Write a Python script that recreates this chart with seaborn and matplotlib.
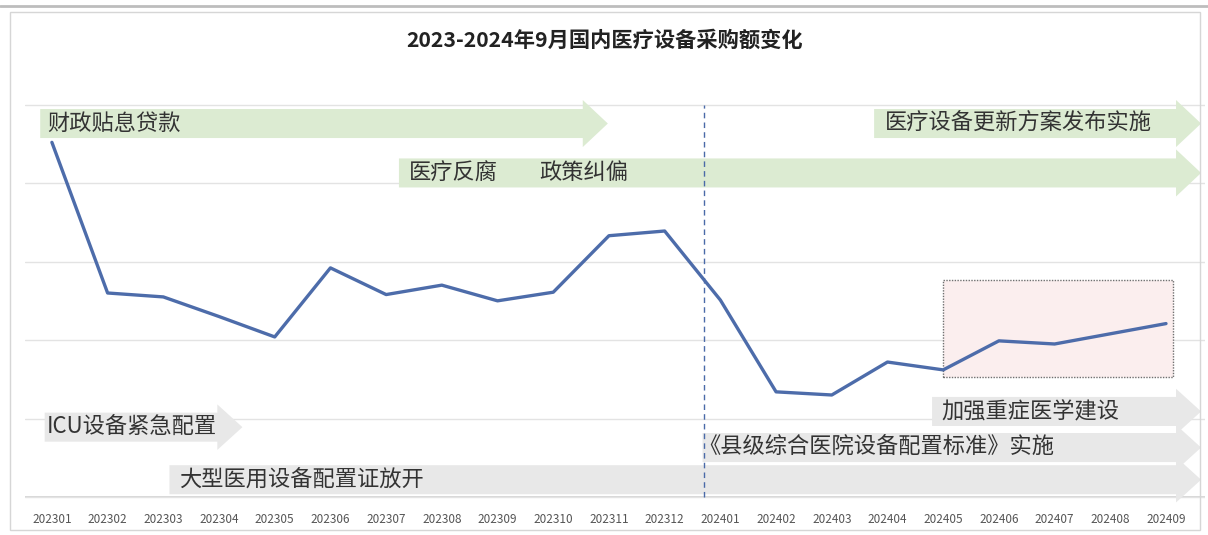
import numpy as np
import pandas as pd
import matplotlib
matplotlib.use("Agg")
import matplotlib.pyplot as plt
from matplotlib.patches import Polygon, Rectangle
import seaborn as sns

# ---------------- data ----------------
months = ["202301", "202302", "202303", "202304", "202305", "202306", "202307",
          "202308", "202309", "202310", "202311", "202312", "202401", "202402",
          "202403", "202404", "202405", "202406", "202407", "202408", "202409"]
amount = [452, 260, 255, 230, 204, 292, 258, 270, 250, 261, 333, 339,
          251, 134, 130, 172, 162, 199, 195, 208, 221]
title = "2023-2024年9月国内医疗设备采购额变化"

# policy arrows: (label(s), start, end, centre)
green_arrows = [
    (["财政贴息贷款"], -0.21, 9.98, 476),
    (["医疗反腐", "政策纠偏"], 6.23, 20.63, 413),
    (["医疗设备更新方案发布实施"], 14.76, 20.63, 476),
]
gray_arrows = [
    (["ICU设备紧急配置"], -0.13, 3.42, 89),
    (["大型医用设备配置证放开"], 2.11, 20.63, 22),
    (["加强重症医学建设"], 15.8, 20.63, 109),
    (["《县级综合医院设备配置标准》实施"], 11.68, 20.63, 63),
]

# ---------------- style ----------------
sns.set_theme(style="whitegrid")
plt.rcParams['font.family'] = ['Noto Sans CJK SC', 'DejaVu Sans']

W, H = 1208, 535
fig = plt.figure(figsize=(W / 100, H / 100), dpi=100)
ax = fig.add_axes([25 / W, 1 - 506.4 / H, 1180 / W, (506.4 - 89) / H])

df = pd.DataFrame({"idx": np.arange(len(months)), "amount": amount})

ax.set_xlim(-0.483, 20.7)
ax.set_ylim(-12, 520)
ax.set_yticks([0, 100, 200, 300, 400, 500])
ax.set_yticklabels([])
ax.grid(axis="x", visible=False)
ax.grid(axis="y", color="#e3e3e3", lw=1)
for s in ax.spines.values():
    s.set_visible(False)
ax.set_facecolor("white")
ax.tick_params(axis="y", length=0)
ax.tick_params(axis="x", length=0, pad=5, labelsize=8.5, labelcolor="#555555")
ax.set_xticks(range(len(months)))
ax.set_xticklabels(months)
ax.axhline(0, color="#d0d0d0", lw=1.2, zorder=0.5)

GREEN = "#dcebd2"
GRAY = "#e8e8e8"


def draw_arrow(x0, x1tip, yc, color, band=36, head=60, headlen=0.45):
    x1 = x1tip - headlen
    pts = [(x0, yc - band / 2), (x1, yc - band / 2), (x1, yc - head / 2),
           (x1tip, yc), (x1, yc + head / 2), (x1, yc + band / 2),
           (x0, yc + band / 2)]
    ax.add_patch(Polygon(pts, closed=True, facecolor=color, edgecolor="none",
                         zorder=1))


for labels, x0, x1, yc in gray_arrows:
    draw_arrow(x0, x1, yc, GRAY, band=37, head=58)
for labels, x0, x1, yc in green_arrows:
    draw_arrow(x0, x1, yc, GREEN, band=37, head=60)

# labels
label_pos = {
    "财政贴息贷款": -0.09,
    "医疗反腐": 6.4,
    "政策纠偏": 8.75,
    "医疗设备更新方案发布实施": 14.96,
    "ICU设备紧急配置": -0.09,
    "大型医用设备配置证放开": 2.29,
    "加强重症医学建设": 15.97,
    "《县级综合医院设备配置标准》实施": 11.6,
}
for labels, x0, x1, yc in green_arrows + gray_arrows:
    for lab in labels:
        ax.text(label_pos[lab], yc, lab, fontsize=16, color="#333333",
                va="center", ha="left", zorder=4)

# highlight box
ax.add_patch(Rectangle((15.99, 153), 4.14, 123, facecolor="#fbeeee",
                       edgecolor="#707070", lw=1.0, ls=(0, (1, 1)), zorder=2))

# dashed divider
ax.plot([11.7, 11.7], [0, 500], color="#4a6aa8", lw=1.0, ls=(0, (4, 3)),
        zorder=2.5)

sns.lineplot(data=df, x="idx", y="amount", ax=ax, color="#4d6caa", lw=2.4,
             zorder=3)
ax.set_xlabel("")
ax.set_ylabel("")

fig.text(605 / W, 1 - 40 / H, title, ha="center", va="center", fontsize=15.3,
         fontweight="bold", color="#222222")

# outer frame
fig.patches.append(Rectangle((10 / W, 5 / H), 1190 / W, 518 / H,
                             transform=fig.transFigure, fill=False,
                             edgecolor="#d6d6d6", lw=1.0))
fig.lines.append(plt.Line2D([0, 1], [1 - 6 / H, 1 - 6 / H],
                            transform=fig.transFigure, color="#bdbdbd", lw=2))

fig.savefig("out.png", dpi=100)
